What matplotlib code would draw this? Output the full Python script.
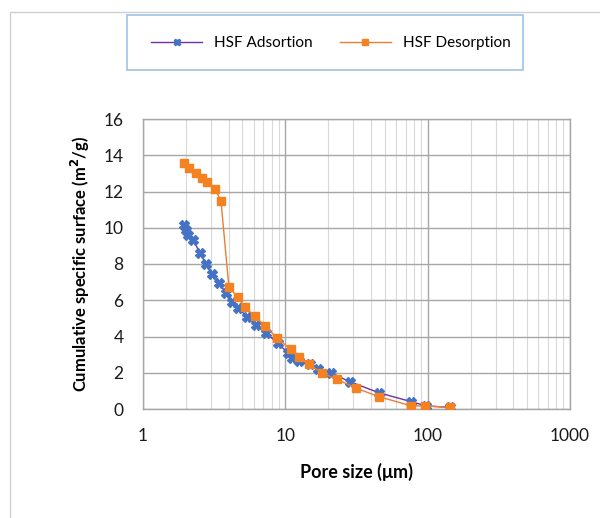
import matplotlib
matplotlib.use("Agg")
import matplotlib.pyplot as plt
from matplotlib.patches import Rectangle
from matplotlib.ticker import LogLocator, FixedLocator, NullFormatter

plt.rcParams['font.family'] = ['Lato', 'DejaVu Sans']

ads_x = [1.95, 2.02, 2.08, 2.25, 2.51, 2.77, 3.06, 3.41, 3.8, 4.19, 4.67, 5.39, 6.21, 7.3, 8.81,
         10.46, 11.05, 12.5, 14.8, 17.0, 21.1, 28.4, 45.3, 76.9, 97.9, 142.6]
ads_y = [10.15, 9.88, 9.6, 9.32, 8.62, 8.0, 7.45, 6.97, 6.42, 5.93, 5.56, 5.09, 4.63, 4.18, 3.66,
         3.07, 2.83, 2.65, 2.47, 2.22, 1.97, 1.51, 0.9, 0.4, 0.17, 0.09]

des_x = [1.93, 2.11, 2.36, 2.58, 2.83, 3.2, 3.53, 4.01, 4.62, 5.2, 6.1, 7.18, 8.72,
         10.88, 12.5, 14.7, 18.2, 23.1, 31.6, 45.5, 76.9, 96.4, 144]
des_y = [13.56, 13.28, 13.0, 12.73, 12.54, 12.14, 11.49, 6.75, 6.16, 5.61, 5.13, 4.58, 3.93,
         3.29, 2.89, 2.47, 1.97, 1.64, 1.14, 0.68, 0.17, 0.17, 0.09]

x_ticks = [1, 10, 100, 1000]
x_tick_labels = ["1", "10", "100", "1000"]
y_ticks = [0, 2, 4, 6, 8, 10, 12, 14, 16]

fig = plt.figure(figsize=(6, 5.18), dpi=100)
ax = fig.add_axes([143/600, 1 - 409/518, (570-143)/600, (409-119)/518])

ax.plot(ads_x, ads_y, color='#7030A0', lw=1.0, marker='X', markersize=6.5,
        markerfacecolor='#4472C4', markeredgecolor='#4472C4', label='HSF Adsortion', zorder=3)
ax.plot(des_x, des_y, color='#ED7D31', lw=1.0, marker='s', markersize=6,
        markerfacecolor='#F58220', markeredgecolor='#F58220', label='HSF Desorption', zorder=4)

ax.set_xscale('log')
ax.set_xlim(1, 1000)
ax.set_ylim(0, 16)
ax.xaxis.set_major_locator(FixedLocator(x_ticks))
ax.set_xticklabels(x_tick_labels)
ax.xaxis.set_minor_locator(LogLocator(base=10, subs=range(2, 10)))
ax.xaxis.set_minor_formatter(NullFormatter())
ax.set_yticks(y_ticks)

ax.grid(which='major', color='#A6A6A6', lw=1.0)
ax.grid(which='minor', axis='x', color='#D9D9D9', lw=0.8)
ax.set_axisbelow(True)
ax.tick_params(which='both', length=0, labelsize=12.5, colors='#1a1a1a')
ax.tick_params(axis='y', pad=14)
ax.tick_params(axis='x', pad=14)
for s in ax.spines.values():
    s.set_color('#A6A6A6')
    s.set_linewidth(1.0)

ax.set_xlabel('Pore size (μm)', fontsize=13, fontweight='bold', labelpad=13)
ax.set_ylabel('Cumulative specific surface (m$^\\mathbf{2}$/g)', fontsize=12,
              fontweight='bold', labelpad=8)

# chart area border
fig.patches.append(Rectangle((10/600, -0.1), 1.2, 1 - 12/518 + 0.1, transform=fig.transFigure,
                             fill=False, edgecolor='#D0D0D0', lw=1.0))
# legend box
fig.patches.append(Rectangle((127/600, 1 - 70/518), (523-127)/600, 55/518,
                             transform=fig.transFigure, fill=False, edgecolor='#9DC3E6', lw=1.2))
handles, labels = ax.get_legend_handles_labels()
fig.legend(handles, labels, loc='center', bbox_to_anchor=(331/600, 1 - 43/518), ncol=2,
           frameon=False, fontsize=11, handlelength=3.3, handletextpad=0.8,
           columnspacing=1.8, markerscale=0.75)

fig.savefig('out.png', dpi=100, facecolor='white')
